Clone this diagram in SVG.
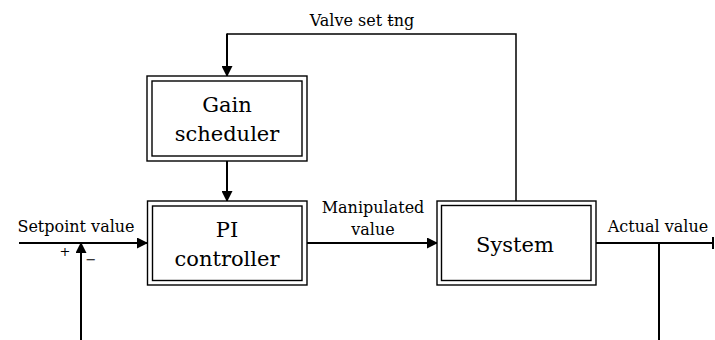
<svg xmlns="http://www.w3.org/2000/svg" width="715" height="340" viewBox="0 0 715 340">
<style>
.box{fill:#fff;stroke:#000;stroke-width:1.4}
.in{fill:none;stroke:#000;stroke-width:1.4}
.bt{font-family:"DejaVu Serif","Liberation Serif",serif;font-size:21px;text-anchor:middle;fill:#000}
.lb{font-family:"DejaVu Serif","Liberation Serif",serif;font-size:16px;text-anchor:middle;fill:#000}
.ln{fill:none;stroke:#000;stroke-width:2}
.thin{fill:none;stroke:#000;stroke-width:1.5}
</style>
<defs>
<marker id="ah" markerWidth="11" markerHeight="11" refX="10" refY="5.5" orient="auto" markerUnits="userSpaceOnUse">
<path d="M0,0 L11,5.5 L0,11 Z" fill="#000"/>
</marker>
</defs>
<g id="connectors">
<line class="ln" x1="19" y1="243" x2="147" y2="243" marker-end="url(#ah)"/>
<line class="ln" x1="81" y1="340" x2="81" y2="243" marker-end="url(#ah)"/>
<line class="ln" x1="307" y1="243" x2="437" y2="243" marker-end="url(#ah)"/>
<line class="ln" x1="596" y1="243" x2="713" y2="243"/>
<line class="ln" x1="713" y1="237" x2="713" y2="249"/>
<line class="ln" x1="659" y1="243" x2="659" y2="340"/>
<polyline class="thin" points="516,201 516,34 227,34"/>
<line class="ln" x1="227" y1="33.5" x2="227" y2="76" marker-end="url(#ah)"/>
<line class="ln" x1="227" y1="161" x2="227" y2="201" marker-end="url(#ah)"/>
</g>
<g id="gain">
<rect class="box" x="147" y="76" width="160" height="85"/>
<rect class="in" x="152" y="81" width="150" height="75"/>
<text class="bt" x="227" y="112">Gain</text>
<text class="bt" x="227" y="141">scheduler</text>
</g>
<g id="pi">
<rect class="box" x="147.5" y="201" width="159.5" height="84"/>
<rect class="in" x="152.5" y="206" width="149.5" height="74.5"/>
<text class="bt" x="227" y="236.5">PI</text>
<text class="bt" x="227" y="266">controller</text>
</g>
<g id="system">
<rect class="box" x="437" y="201" width="159" height="84"/>
<rect class="in" x="441.5" y="205.5" width="149.5" height="75"/>
<text class="bt" x="515" y="252">System</text>
</g>
<g id="labels">
<text class="lb" x="362" y="26">Valve set ŧng</text>
<text class="lb" x="76" y="231.5">Setpoint value</text>
<text class="lb" x="373" y="213">Manipulated</text>
<text class="lb" x="373" y="235">value</text>
<text class="lb" x="658" y="231.5">Actual value</text>
<text class="lb" x="65" y="256" style="font-size:13px">+</text>
<text class="lb" x="91" y="264" style="font-size:13px">−</text>
</g>
</svg>
